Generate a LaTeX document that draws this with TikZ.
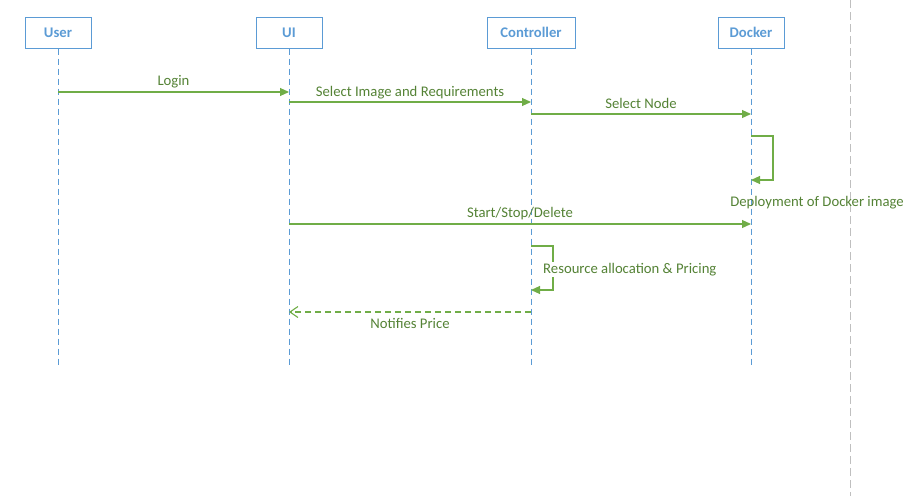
\documentclass[tikz,border=0pt]{standalone}
\usepackage{fontspec}
\setmainfont{Carlito}
\usetikzlibrary{arrows.meta}
\definecolor{boxblue}{HTML}{5B9BD5}
\definecolor{lgreen}{HTML}{70AD47}
\definecolor{tgreen}{HTML}{548235}
\definecolor{lgray}{HTML}{BFBFBF}
\begin{document}
\begin{tikzpicture}[x=1pt,y=-1pt,
  actor/.style={draw=boxblue,line width=1pt,minimum width=66pt,minimum height=31pt,inner sep=0pt,text=boxblue,font=\fontsize{14.7}{16}\selectfont\bfseries},
  lifeline/.style={draw=boxblue,line width=0.9pt,dash pattern=on 6pt off 4pt},
  msg/.style={draw=lgreen,line width=1.1pt,-{Triangle[length=9pt,width=8pt]}},
  ret/.style={draw=lgreen,line width=1.1pt,dash pattern=on 6pt off 4pt,-{Straight Barb[length=8pt,width=11pt]}},
  lbl/.style={text=tgreen,font=\fontsize{14.7}{16}\selectfont,inner sep=1pt}]
\useasboundingbox (0,0) rectangle (910,496);
\draw[draw=lgray,line width=1pt,dash pattern=on 8pt off 4pt] (850,0) -- (850,496);
\node[actor] (user) at (58,32.5) {User};
\node[actor] (ui) at (289,32.5) {UI};
\node[actor,minimum width=88pt] (ctrl) at (531,32.5) {Controller};
\node[actor] (dock) at (751,32.5) {Docker};
\coordinate (userE) at (58,368);
\coordinate (uiE) at (289,368);
\coordinate (ctrlE) at (531,368);
\coordinate (dockE) at (751,368);
\draw[lifeline] (user.south) -- (userE);
\draw[lifeline] (ui.south) -- (uiE);
\draw[lifeline] (ctrl.south) -- (ctrlE);
\draw[lifeline] (dock.south) -- (dockE);
% Login
\coordinate (a1) at (58,92); \coordinate (b1) at (289,92);
\draw[msg] (a1) -- (b1);
\node[lbl] (l1) at (173.5,81.5) {Login};
% Select Image
\coordinate (a2) at (289,102); \coordinate (b2) at (531,102);
\draw[msg] (a2) -- (b2);
\node[lbl] (l2) at (410,92.5) {Select Image and Requirements};
% Select Node
\coordinate (a3) at (531,114); \coordinate (b3) at (751,114);
\draw[msg] (a3) -- (b3);
\node[lbl] (l3) at (641,103.5) {Select Node};
% Docker self
\coordinate (a4) at (751,136); \coordinate (b4) at (751,180);
\draw[msg] (a4) -- (773,136) -- (773,180) -- (b4);
\node[lbl] (l4) at (817,202.5) {Deployment of Docker image};
% Start/Stop/Delete
\coordinate (a5) at (289,224); \coordinate (b5) at (751,224);
\draw[msg] (a5) -- (b5);
\node[lbl] (l5) at (520,213.5) {Start/Stop/Delete};
% Controller self
\coordinate (a6) at (531,246); \coordinate (b6) at (531,290);
\draw[msg] (a6) -- (553,246) -- (553,290) -- (b6);
\node[lbl,fill=white,anchor=west] (l6) at (542,269.5) {Resource allocation \& Pricing};
% Notifies
\coordinate (a7) at (531,312); \coordinate (b7) at (289,312);
\draw[ret] (a7) -- (b7);
\node[lbl] (l7) at (410,323.5) {Notifies Price};
\end{tikzpicture}
\end{document}
